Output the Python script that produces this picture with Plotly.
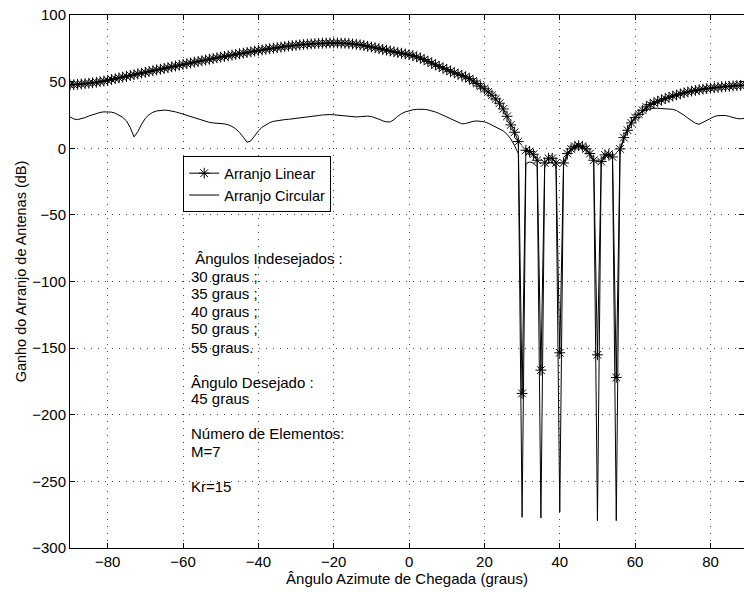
import plotly.graph_objects as go

# Azimuth angles (degrees), 1-degree steps from -90 to 90
angles = list(range(-90, 91))

# Linear array gain (dB)
linear_gain = [
    47.5, 47.7, 48.0, 48.2, 48.5, 48.8, 49.1, 49.5, 50.0, 50.5,   # -90..-81
    51.0, 51.6, 52.2, 52.8, 53.4, 54.0, 54.6, 55.2, 55.8, 56.4,   # -80..-71
    57.0, 57.6, 58.2, 58.8, 59.3, 59.9, 60.5, 61.1, 61.7, 62.3,   # -70..-61
    62.9, 63.4, 64.0, 64.6, 65.1, 65.7, 66.2, 66.8, 67.3, 67.9,   # -60..-51
    68.4, 68.9, 69.4, 69.9, 70.4, 70.9, 71.4, 71.9, 72.4, 72.9,   # -50..-41
    73.4, 73.8, 74.3, 74.7, 75.1, 75.5, 75.9, 76.3, 76.7, 77.0,   # -40..-31
    77.3, 77.6, 77.9, 78.1, 78.3, 78.5, 78.7, 78.8, 78.9, 79.0,   # -30..-21
    79.0, 79.0, 78.9, 78.8, 78.6, 78.3, 78.0, 77.6, 77.1, 76.5,   # -20..-11
    76.0, 75.4, 74.8, 74.2, 73.6, 73.0, 72.4, 71.8, 71.3, 70.8,   # -10..-1
    70.2, 69.5, 68.6, 67.6, 66.5, 65.2, 63.9, 62.6, 61.4, 60.2,   # 0..9
    59.0, 57.8, 56.6, 55.6, 54.6, 53.6, 52.2, 50.5, 48.6, 46.6,   # 10..19
    44.6, 42.3, 39.8, 37.0, 33.8, 29.5, 24.0, 17.5, 12.0, 5.0,    # 20..29
    -184.0, -1.5, -2.5, -4.5, -9.0, -166.5, -11.0, -7.5, -7.5, -11.0,  # 30..39
    -153.5, -11.0, -4.0, -0.5, 1.5, 2.0, 1.5, -0.5, -4.0, -9.0,   # 40..49
    -155.0, -10.0, -5.0, -4.5, -6.5, -172.0, -0.5, 8.0, 13.5, 19.0,  # 50..59
    23.0, 25.5, 28.5, 31.0, 32.8, 34.0, 35.2, 36.3, 37.3, 38.3,   # 60..69
    39.2, 40.0, 40.8, 41.6, 42.3, 42.9, 43.4, 43.9, 44.3, 44.8,   # 70..79
    45.1, 45.4, 45.7, 46.0, 46.3, 46.5, 46.8, 47.0, 47.2, 47.3,   # 80..89
    47.5,                                                         # 90
]

# Circular array gain (dB)
circular_gain = [
    23.5, 22.0, 21.5, 22.0, 23.0, 24.2, 25.3, 26.2, 26.9, 27.3,   # -90..-81
    27.4, 27.1, 26.3, 25.0, 23.2, 20.5, 15.5, 8.5, 12.5, 18.0,    # -80..-71
    22.5, 25.2, 27.0, 28.0, 28.5, 28.6, 28.4, 28.0, 27.3, 26.5,   # -70..-61
    25.6, 24.6, 23.6, 22.6, 21.6, 20.7, 19.9, 19.4, 19.0, 18.8,   # -60..-51
    18.6, 18.3, 17.6, 16.4, 14.5, 11.8, 8.3, 4.5, 5.5, 9.5,       # -50..-41
    13.0, 15.8, 17.8, 19.2, 20.2, 20.8, 21.2, 21.5, 21.7, 22.0,   # -40..-31
    22.3, 22.6, 23.0, 23.4, 23.8, 24.2, 24.6, 25.0, 25.3, 25.3,   # -30..-21
    25.1, 24.8, 24.4, 24.0, 23.6, 23.4, 23.5, 23.7, 24.0, 24.1,   # -20..-11
    23.8, 23.0, 21.8, 20.6, 19.8, 19.8, 21.5, 24.0, 26.0, 27.3,   # -10..-1
    28.2, 28.8, 29.2, 29.3, 29.2, 28.8, 28.1, 27.2, 26.1, 24.8,   # 0..9
    23.4, 21.9, 20.4, 19.0, 18.3, 18.6, 19.5, 20.2, 20.5, 20.4,   # 10..19
    19.8, 18.8, 17.5, 16.0, 14.5, 13.0, 10.5, 7.0, 2.0, -4.0,     # 20..29
    -277.0, -11.5, -10.3, -11.0, -14.0, -277.5, -14.0, -10.5, -11.0, -14.0,  # 30..39
    -273.0, -13.0, -5.5, -1.5, 0.5, 1.0, 0.5, -1.5, -5.0, -10.0,  # 40..49
    -279.5, -11.5, -6.0, -5.0, -8.0, -279.5, -2.0, 7.0, 14.0, 19.5,  # 50..59
    23.5, 26.0, 27.8, 29.0, 29.7, 30.0, 30.0, 29.9, 29.8, 29.6,   # 60..69
    29.2, 28.3, 26.8, 24.8, 22.6, 20.5, 18.8, 18.0, 19.5, 21.3,   # 70..79
    22.8, 23.8, 24.5, 24.8, 24.6, 23.9, 23.0, 22.3, 22.1, 22.3,   # 80..89
    22.8,                                                         # 90
]

series_names = ["Arranjo Linear", "Arranjo Circular"]
x_ticks = [-80, -60, -40, -20, 0, 20, 40, 60, 80]
y_ticks = [-300, -250, -200, -150, -100, -50, 0, 50, 100]

note_lines = [
    "\u00a0Ângulos Indesejados :",
    "30 graus ;",
    "35 graus ;",
    "40 graus ;",
    "50 graus ;",
    "55 graus.",
    "Ângulo Desejado :",
    "45 graus",
    "Número de Elementos:",
    "M=7",
    "Kr=15",
]
note_y = [-82.8, -96.6, -109.1, -122.4, -135.4, -149.2, -175.5, -187.9, -214.2, -227.3, -253.6]
note_x = -58.5

FONT = "Liberation Sans, Arial, Helvetica, sans-serif"

fig = go.Figure()
fig.add_trace(go.Scatter(
    x=angles, y=linear_gain, name=series_names[0], mode="lines+markers",
    line=dict(color="black", width=1),
    marker=dict(symbol="asterisk-open", size=9, color="black",
                line=dict(color="black", width=1)),
))
fig.add_trace(go.Scatter(
    x=angles, y=circular_gain, name=series_names[1], mode="lines",
    line=dict(color="black", width=1),
))

for txt, yy in zip(note_lines, note_y):
    fig.add_annotation(x=note_x, y=yy, xref="x", yref="y", text=txt,
                       showarrow=False, xanchor="left", yanchor="middle",
                       font=dict(family=FONT, size=15, color="black"))

# y-axis title (placed slightly above axis centre, as in the original)
fig.add_annotation(x=-0.0727, y=0.519, xref="paper", yref="paper",
                   text="Ganho do Arranjo de Antenas (dB)", textangle=-90,
                   showarrow=False, xanchor="center", yanchor="middle",
                   font=dict(family=FONT, size=14.5, color="black"))

axis_common = dict(
    showline=True, linecolor="black", linewidth=1, mirror="ticks",
    ticks="inside", ticklen=5, tickcolor="black", tickwidth=1,
    showgrid=True, gridcolor="#444", gridwidth=1, griddash="1px,6px",
    zeroline=False, tickfont=dict(family=FONT, size=15, color="black"),
)

fig.update_layout(
    width=744, height=592,
    margin=dict(l=70, r=0, t=15, b=44),
    paper_bgcolor="white", plot_bgcolor="white",
    font=dict(family=FONT, size=15, color="black"),
    showlegend=True,
    legend=dict(x=0.168, y=0.735, xanchor="left", yanchor="top",
                bgcolor="white", bordercolor="black", borderwidth=1,
                font=dict(family=FONT, size=14.5, color="black"),
                tracegroupgap=0),
    xaxis=dict(range=[-90, 88.9], tickvals=x_ticks,
               title=dict(text="Ângulo Azimute de Chegada (graus)", standoff=2,
                          font=dict(family=FONT, size=15)),
               **axis_common),
    yaxis=dict(range=[-300, 100], tickvals=y_ticks, **axis_common),
)

fig.write_html("out.html")
